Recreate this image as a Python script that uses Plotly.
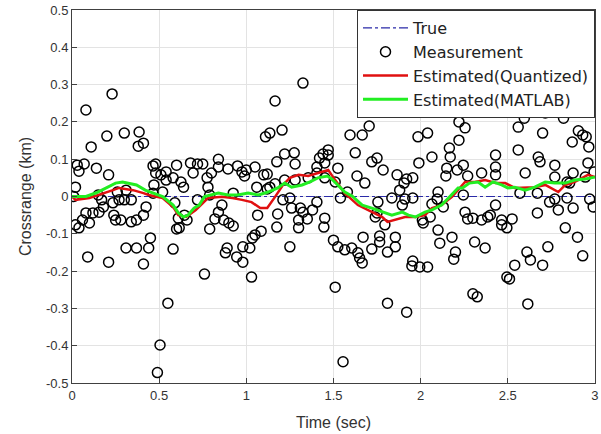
import plotly.graph_objects as go

meas_t = [0.01,0.02,0.02,0.03,0.04,0.04,0.06,0.07,0.08,0.08,0.09,0.10,0.11,0.12,0.14,0.15,0.155,0.17,0.18,0.20,
          0.21,0.21,0.23,0.235,0.24,0.25,0.26,0.27,0.28,0.30,0.30,0.31,0.31,0.34,0.34,0.37,0.37,0.38,0.385,0.41,
          0.41,0.41,0.425,0.44,0.45,0.465,0.465,0.47,0.48,0.48,0.49,0.505,0.51,0.52,0.54,0.54,0.55,0.58,0.58,0.59,
          0.60,0.60,0.61,0.615,0.625,0.64,0.645,0.66,0.68,0.695,0.72,0.72,0.75,0.76,0.775,0.78,0.79,0.79,0.80,0.82,
          0.84,0.84,0.84,0.86,0.87,0.88,0.89,0.895,0.90,0.925,0.925,0.945,0.95,0.975,0.98,0.98,0.99,1.00,1.02,1.03,
          1.035,1.05,1.05,1.06,1.065,1.085,1.10,1.11,1.12,1.12,1.135,1.135,1.165,1.165,1.175,1.175,1.18,1.205,1.21,1.22,
          1.22,1.25,1.25,1.26,1.275,1.28,1.28,1.30,1.30,1.31,1.325,1.325,1.35,1.355,1.38,1.405,1.405,1.405,1.42,1.44,
          1.45,1.45,1.45,1.445,1.47,1.47,1.50,1.51,1.51,1.525,1.525,1.54,1.555,1.565,1.58,1.595,1.605,1.625,1.635,1.64,
          1.65,1.665,1.665,1.67,1.68,1.705,1.72,1.72,1.74,1.75,1.75,1.755,1.765,1.765,1.785,1.795,1.81,1.81,1.835,1.855,
          1.855,1.865,1.88,1.895,1.905,1.91,1.92,1.92,1.95,1.955,1.955,1.955,1.985,1.99,1.995,2.01,2.015,2.04,2.04,2.055,
          2.065,2.065,2.095,2.10,2.10,2.11,2.13,2.145,2.15,2.165,2.17,2.18,2.20,2.19,2.21,2.22,2.22,2.245,2.245,2.255,
          2.255,2.27,2.27,2.30,2.30,2.31,2.325,2.35,2.35,2.37,2.385,2.40,2.43,2.43,2.43,2.43,2.465,2.465,2.465,2.495,
          2.495,2.51,2.525,2.53,2.54,2.56,2.56,2.57,2.595,2.60,2.61,2.615,2.63,2.67,2.67,2.675,2.685,2.70,2.70,2.715,
          2.73,2.74,2.77,2.77,2.77,2.79,2.82,2.84,2.83,2.84,2.855,2.87,2.875,2.875,2.90,2.905,2.93,2.93,2.945,2.95,
          2.95,2.96,2.965,2.97,2.99,2.995]
meas_y = [-0.000,0.025,-0.076,0.084,0.068,-0.084,-0.063,0.087,0.232,-0.044,-0.162,-0.071,0.133,-0.044,0.076,0.004,-0.042,-0.009,-0.028,0.162,
          0.058,-0.176,0.275,-0.017,-0.050,-0.063,0.012,-0.009,-0.063,0.170,-0.009,0.017,-0.138,-0.009,-0.068,-0.063,-0.138,0.135,0.173,0.143,
          -0.050,-0.181,-0.028,-0.138,-0.111,0.082,0.009,0.031,0.087,0.063,-0.472,-0.398,0.058,0.012,0.066,0.044,-0.286,0.050,-0.141,-0.017,
          0.084,-0.087,-0.058,-0.084,0.039,0.025,-0.050,-0.063,0.090,0.063,0.087,-0.009,0.087,-0.208,0.050,0.025,0.004,-0.087,0.063,-0.060,
          0.079,0.100,-0.042,-0.023,-0.063,-0.151,-0.138,0.074,-0.071,0.009,-0.079,-0.162,0.082,0.066,-0.135,-0.176,0.055,0.071,-0.138,-0.216,
          -0.111,0.079,-0.103,0.025,-0.050,-0.093,0.058,0.160,0.060,0.020,0.170,0.025,0.256,0.034,0.093,-0.082,-0.047,0.178,-0.009,0.114,
          0.044,-0.004,-0.135,-0.031,0.117,0.087,0.044,-0.063,-0.084,-0.031,0.304,-0.042,-0.060,0.050,-0.036,0.079,0.063,-0.015,0.103,0.114,
          0.090,0.050,-0.058,-0.082,0.125,0.111,-0.117,0.039,-0.243,0.076,-0.135,-0.004,-0.443,-0.143,0.012,0.165,-0.138,0.117,0.055,-0.151,
          -0.165,0.165,-0.178,-0.109,0.036,0.189,0.093,-0.141,-0.055,0.103,-0.044,-0.015,-0.106,-0.122,0.071,-0.076,-0.149,-0.286,-0.004,-0.109,
          -0.135,0.058,0.017,-0.023,0.036,-0.007,0.047,-0.310,-0.186,0.050,-0.004,-0.173,0.160,0.090,-0.189,-0.063,-0.071,0.170,-0.189,-0.055,
          0.106,-0.020,-0.007,0.012,-0.090,-0.125,-0.028,0.055,0.076,0.130,0.106,-0.109,-0.149,-0.168,0.071,0.200,0.151,0.084,0.004,0.184,
          -0.042,0.055,-0.060,-0.058,-0.261,-0.122,-0.269,0.063,-0.063,-0.138,-0.055,-0.050,0.111,0.079,0.058,-0.023,0.227,-0.063,-0.076,-0.084,
          -0.216,-0.221,-0.060,0.245,-0.184,0.186,0.125,0.009,0.210,0.063,-0.149,-0.288,-0.170,0.009,-0.044,0.106,0.093,0.170,-0.184,0.224,
          -0.135,-0.015,0.084,0.052,-0.007,-0.036,0.210,-0.004,-0.084,0.039,0.036,0.146,0.063,-0.031,-0.109,0.176,0.165,-0.159,0.052,0.232,
          0.160,0.090,0.133,-0.007,-0.028,0.066]

# Estimated (Quantized)
quant_t = [0.00,0.02,0.10,0.155,0.235,0.27,0.35,0.41,0.44,0.52,0.58,0.61,0.655,0.71,0.78,0.86,0.92,0.975,1.03,1.08,
           1.12,1.165,1.21,1.25,1.30,1.355,1.41,1.47,1.51,1.565,1.64,1.72,1.78,1.81,1.855,1.91,1.97,2.025,2.065,2.12,
           2.18,2.215,2.255,2.31,2.37,2.43,2.485,2.54,2.60,2.655,2.715,2.77,2.79,2.83,2.885,2.96,3.00]
quant_y = [0.000,-0.009,-0.004,0.004,0.017,0.023,0.017,0.009,0.004,-0.004,-0.028,-0.050,-0.055,-0.036,-0.004,-0.001,-0.004,-0.009,-0.015,-0.031,
           -0.031,-0.001,0.031,0.050,0.058,0.055,0.063,0.071,0.044,0.009,-0.023,-0.042,-0.055,-0.068,-0.063,-0.055,-0.055,-0.050,-0.031,-0.023,
           -0.001,0.017,0.039,0.039,0.044,0.036,0.036,0.023,0.023,0.025,0.031,0.017,0.012,0.031,0.039,0.058,0.052]

# Estimated (MATLAB)
mat_t = [0.00,0.08,0.14,0.20,0.25,0.29,0.33,0.37,0.42,0.465,0.52,0.58,0.61,0.64,0.665,0.70,0.73,0.76,0.84,0.895,
         0.95,1.01,1.07,1.125,1.18,1.22,1.26,1.32,1.365,1.41,1.465,1.49,1.525,1.565,1.61,1.665,1.72,1.78,1.835,1.895,
         1.93,1.97,2.025,2.065,2.12,2.16,2.215,2.24,2.28,2.33,2.37,2.415,2.465,2.50,2.54,2.60,2.655,2.715,2.77,2.83,
         2.885,2.945,3.00]
mat_y = [0.000,0.000,0.010,0.025,0.036,0.039,0.036,0.031,0.017,0.009,0.000,-0.023,-0.044,-0.055,-0.050,-0.031,-0.023,0.000,0.009,0.004,
         0.004,0.009,0.004,0.012,0.023,0.036,0.025,0.031,0.039,0.050,0.055,0.047,0.031,0.012,0.000,-0.023,-0.031,-0.042,-0.050,-0.042,
         -0.050,-0.055,-0.042,-0.036,-0.023,-0.004,0.023,0.023,0.036,0.039,0.025,0.039,0.031,0.023,0.025,0.017,0.025,0.039,0.036,0.036,
         0.044,0.047,0.052]

true_t = [0, 3]
true_y = [0, 0]

x_ticks = [0, 0.5, 1, 1.5, 2, 2.5, 3]
x_tick_text = ["0", "0.5", "1", "1.5", "2", "2.5", "3"]
y_ticks = [-0.5, -0.4, -0.3, -0.2, -0.1, 0, 0.1, 0.2, 0.3, 0.4, 0.5]
y_tick_text = ["-0.5", "-0.4", "-0.3", "-0.2", "-0.1", "0", "0.1", "0.2", "0.3", "0.4", "0.5"]

font = "Liberation Sans, Arial, sans-serif"
legend_font = "DejaVu Sans, Liberation Sans, sans-serif"

fig = go.Figure()
fig.add_trace(go.Scatter(x=true_t, y=true_y, mode="lines", name="True",
                         line=dict(color="#2a2aa8", width=1.2, dash="dashdot")))
fig.add_trace(go.Scatter(x=meas_t, y=meas_y, mode="markers", name="Measurement",
                         marker=dict(symbol="circle-open", size=10, color="black",
                                     line=dict(width=1.5, color="black"))))
fig.add_trace(go.Scatter(x=quant_t, y=quant_y, mode="lines", name="Estimated(Quantized)",
                         line=dict(color="#e01010", width=2.5)))
fig.add_trace(go.Scatter(x=mat_t, y=mat_y, mode="lines", name="Estimated(MATLAB)",
                         line=dict(color="#22ee22", width=3)))

axis_common = dict(showgrid=True, gridcolor="#e3e3e3", gridwidth=1, zeroline=False,
                   showline=True, linecolor="#404040", linewidth=1, mirror=True,
                   ticks="inside", ticklen=5, tickcolor="#404040", automargin=False,
                   ticklabeloverflow="allow",
                   tickfont=dict(family=font, size=13, color="#333333"))

fig.update_xaxes(range=[0, 3.0005], tickvals=x_ticks, ticktext=x_tick_text,
                 title=dict(text="Time (sec)", font=dict(family=font, size=16, color="#333333"), standoff=15),
                 **axis_common)
fig.update_yaxes(range=[-0.5, 0.5], tickvals=y_ticks, ticktext=y_tick_text,
                 title=dict(text="Crossrange (km)", font=dict(family=font, size=16, color="#333333"), standoff=10),
                 **axis_common)

fig.update_layout(
    width=601, height=434,
    margin=dict(l=72, r=6, t=10, b=51),
    paper_bgcolor="white", plot_bgcolor="white",
    showlegend=True,
    hovermode=False,
    legend=dict(x=1, y=1, xanchor="right", yanchor="top",
                bgcolor="white", bordercolor="#333333", borderwidth=1,
                font=dict(family=legend_font, size=16, color="#222222"),
                tracegroupgap=0, itemwidth=45),
)

# remove the default page margin so the figure fills the 601x434 window exactly
fig.write_html("out.html", config={"displayModeBar": False, "staticPlot": True},
               post_script="document.body.style.margin='0';document.body.style.overflow='hidden';")
